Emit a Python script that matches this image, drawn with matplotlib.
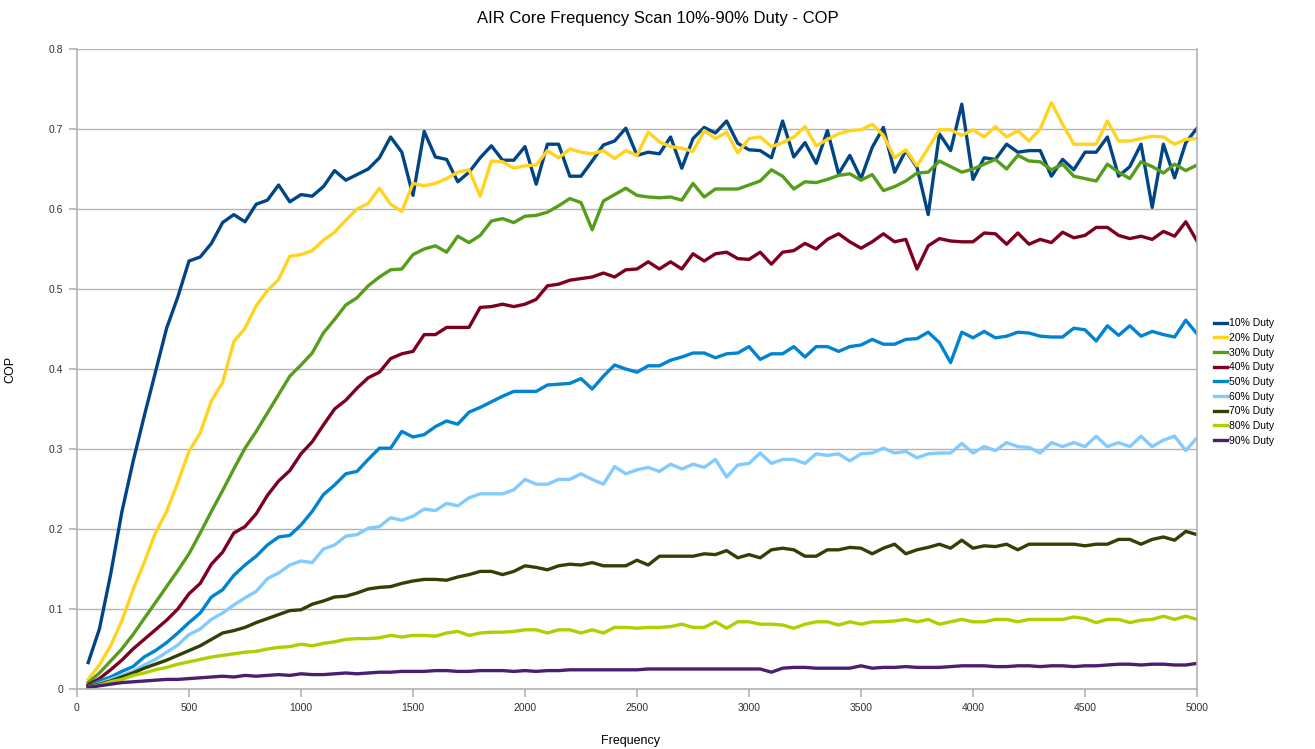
import matplotlib
matplotlib.use("Agg")
from matplotlib import pyplot as plt

plt.rcParams["font.family"] = ["Liberation Sans", "DejaVu Sans"]

# frequency grid of the scan (50 Hz steps)
FREQ = list(range(50, 5001, 50))

LABELS = ["10% Duty", "20% Duty", "30% Duty", "40% Duty", "50% Duty",
          "60% Duty", "70% Duty", "80% Duty", "90% Duty"]
COLORS = ["#004586", "#ffd320", "#579d1c", "#7e0021", "#0084d1",
          "#83caff", "#314004", "#aecf00", "#4b1f6f"]

duty10 = [
    0.033, 0.075, 0.143, 0.221, 0.284, 0.341, 0.396, 0.451, 0.490, 0.535,
    0.540, 0.557, 0.583, 0.593, 0.584, 0.606, 0.611, 0.630, 0.609, 0.618,
    0.616, 0.628, 0.648, 0.636, 0.643, 0.650, 0.664, 0.690, 0.671, 0.617,
    0.697, 0.665, 0.662, 0.634, 0.646, 0.664, 0.679, 0.661, 0.661, 0.678,
    0.631, 0.681, 0.681, 0.641, 0.641, 0.660, 0.680, 0.685, 0.701, 0.667,
    0.671, 0.669, 0.690, 0.651, 0.688, 0.702, 0.695, 0.710, 0.682, 0.674,
    0.673, 0.664, 0.710, 0.665, 0.683, 0.657, 0.698, 0.644, 0.667, 0.638,
    0.677, 0.702, 0.646, 0.673, 0.652, 0.593, 0.694, 0.673, 0.731, 0.637,
    0.664, 0.662, 0.681, 0.671, 0.673, 0.673, 0.641, 0.662, 0.649, 0.671,
    0.671, 0.690, 0.641, 0.653, 0.681, 0.602, 0.681, 0.639, 0.683, 0.701,
]
duty20 = [
    0.012, 0.030, 0.054, 0.085, 0.124, 0.158, 0.195, 0.222, 0.258, 0.297,
    0.320, 0.360, 0.383, 0.434, 0.451, 0.479, 0.498, 0.512, 0.541, 0.543,
    0.548, 0.561, 0.571, 0.586, 0.600, 0.607, 0.626, 0.606, 0.597, 0.632,
    0.629, 0.632, 0.638, 0.646, 0.649, 0.616, 0.660, 0.659, 0.651, 0.654,
    0.655, 0.673, 0.664, 0.675, 0.671, 0.669, 0.673, 0.663, 0.673, 0.667,
    0.696, 0.684, 0.678, 0.676, 0.672, 0.698, 0.688, 0.696, 0.670, 0.688,
    0.690, 0.678, 0.683, 0.690, 0.703, 0.679, 0.687, 0.694, 0.698, 0.699,
    0.706, 0.692, 0.664, 0.674, 0.654, 0.676, 0.699, 0.699, 0.692, 0.699,
    0.690, 0.703, 0.690, 0.698, 0.685, 0.700, 0.733, 0.706, 0.681, 0.681,
    0.681, 0.710, 0.685, 0.685, 0.688, 0.691, 0.690, 0.681, 0.687, 0.688,
]
duty30 = [
    0.008, 0.020, 0.035, 0.050, 0.068, 0.088, 0.108, 0.128, 0.148, 0.169,
    0.195, 0.222, 0.248, 0.275, 0.301, 0.322, 0.345, 0.368, 0.391, 0.405,
    0.420, 0.445, 0.462, 0.480, 0.489, 0.504, 0.515, 0.524, 0.525, 0.543,
    0.550, 0.554, 0.546, 0.566, 0.558, 0.567, 0.585, 0.588, 0.583, 0.591,
    0.592, 0.596, 0.604, 0.613, 0.608, 0.574, 0.610, 0.618, 0.626, 0.617,
    0.615, 0.614, 0.615, 0.611, 0.632, 0.615, 0.625, 0.625, 0.625, 0.630,
    0.635, 0.649, 0.641, 0.625, 0.634, 0.633, 0.637, 0.642, 0.644, 0.636,
    0.643, 0.623, 0.628, 0.635, 0.645, 0.646, 0.660, 0.653, 0.646, 0.650,
    0.656, 0.662, 0.650, 0.667, 0.660, 0.659, 0.649, 0.656, 0.641, 0.638,
    0.635, 0.656, 0.646, 0.638, 0.659, 0.653, 0.645, 0.656, 0.648, 0.655,
]
duty40 = [
    0.005, 0.013, 0.024, 0.036, 0.050, 0.062, 0.074, 0.086, 0.100, 0.119,
    0.132, 0.156, 0.171, 0.195, 0.203, 0.219, 0.242, 0.260, 0.273, 0.294,
    0.309, 0.330, 0.350, 0.361, 0.376, 0.389, 0.396, 0.413, 0.419, 0.422,
    0.443, 0.443, 0.452, 0.452, 0.452, 0.477, 0.478, 0.481, 0.478, 0.481,
    0.487, 0.504, 0.506, 0.511, 0.513, 0.515, 0.520, 0.515, 0.524, 0.525,
    0.534, 0.525, 0.534, 0.525, 0.544, 0.535, 0.544, 0.546, 0.538, 0.537,
    0.546, 0.531, 0.546, 0.548, 0.557, 0.550, 0.562, 0.569, 0.559, 0.551,
    0.559, 0.569, 0.559, 0.562, 0.525, 0.554, 0.563, 0.560, 0.559, 0.559,
    0.570, 0.569, 0.556, 0.570, 0.556, 0.562, 0.558, 0.571, 0.564, 0.567,
    0.577, 0.577, 0.567, 0.563, 0.566, 0.562, 0.572, 0.566, 0.584, 0.560,
]
duty50 = [
    0.003, 0.010, 0.015, 0.022, 0.028, 0.040, 0.048, 0.058, 0.070, 0.083,
    0.095, 0.115, 0.124, 0.142, 0.155, 0.166, 0.180, 0.190, 0.192, 0.205,
    0.222, 0.243, 0.255, 0.269, 0.272, 0.287, 0.301, 0.301, 0.322, 0.315,
    0.318, 0.328, 0.335, 0.331, 0.346, 0.352, 0.359, 0.366, 0.372, 0.372,
    0.372, 0.380, 0.381, 0.382, 0.388, 0.375, 0.391, 0.405, 0.400, 0.396,
    0.404, 0.404, 0.411, 0.415, 0.420, 0.420, 0.414, 0.419, 0.420, 0.428,
    0.412, 0.419, 0.419, 0.428, 0.415, 0.428, 0.428, 0.422, 0.428, 0.430,
    0.437, 0.431, 0.431, 0.437, 0.438, 0.446, 0.433, 0.408, 0.446, 0.439,
    0.447, 0.439, 0.441, 0.446, 0.445, 0.441, 0.440, 0.440, 0.451, 0.449,
    0.435, 0.454, 0.442, 0.454, 0.441, 0.447, 0.443, 0.440, 0.461, 0.444,
]
duty60 = [
    0.002, 0.007, 0.012, 0.017, 0.022, 0.030, 0.037, 0.046, 0.055, 0.068,
    0.075, 0.087, 0.095, 0.105, 0.114, 0.122, 0.138, 0.145, 0.155, 0.160,
    0.158, 0.175, 0.180, 0.191, 0.193, 0.201, 0.203, 0.214, 0.211, 0.216,
    0.225, 0.223, 0.232, 0.229, 0.239, 0.244, 0.244, 0.244, 0.249, 0.262,
    0.256, 0.256, 0.262, 0.262, 0.269, 0.262, 0.256, 0.278, 0.269, 0.274,
    0.277, 0.272, 0.281, 0.275, 0.281, 0.277, 0.287, 0.265, 0.280, 0.282,
    0.295, 0.282, 0.287, 0.287, 0.282, 0.294, 0.292, 0.294, 0.285, 0.294,
    0.295, 0.301, 0.295, 0.297, 0.289, 0.294, 0.295, 0.295, 0.307, 0.295,
    0.303, 0.298, 0.308, 0.303, 0.302, 0.295, 0.308, 0.303, 0.308, 0.303,
    0.316, 0.303, 0.308, 0.303, 0.316, 0.303, 0.311, 0.316, 0.298, 0.314,
]
duty70 = [
    0.003, 0.006, 0.010, 0.015, 0.020, 0.026, 0.031, 0.036, 0.042, 0.048,
    0.054, 0.062, 0.070, 0.073, 0.077, 0.083, 0.088, 0.093, 0.098, 0.099,
    0.106, 0.110, 0.115, 0.116, 0.120, 0.125, 0.127, 0.128, 0.132, 0.135,
    0.137, 0.137, 0.136, 0.140, 0.143, 0.147, 0.147, 0.143, 0.147, 0.154,
    0.152, 0.149, 0.154, 0.156, 0.155, 0.158, 0.154, 0.154, 0.154, 0.161,
    0.155, 0.166, 0.166, 0.166, 0.166, 0.169, 0.168, 0.173, 0.164, 0.168,
    0.164, 0.174, 0.176, 0.174, 0.166, 0.166, 0.174, 0.174, 0.177, 0.176,
    0.169, 0.176, 0.181, 0.169, 0.174, 0.177, 0.181, 0.176, 0.186, 0.176,
    0.179, 0.178, 0.181, 0.174, 0.181, 0.181, 0.181, 0.181, 0.181, 0.179,
    0.181, 0.181, 0.187, 0.187, 0.181, 0.187, 0.190, 0.186, 0.197, 0.193,
]
duty80 = [
    0.002, 0.005, 0.009, 0.012, 0.017, 0.020, 0.024, 0.027, 0.031, 0.034,
    0.037, 0.040, 0.042, 0.044, 0.046, 0.047, 0.050, 0.052, 0.053, 0.056,
    0.054, 0.057, 0.059, 0.062, 0.063, 0.063, 0.064, 0.067, 0.065, 0.067,
    0.067, 0.066, 0.070, 0.072, 0.067, 0.070, 0.071, 0.071, 0.072, 0.074,
    0.074, 0.070, 0.074, 0.074, 0.070, 0.074, 0.070, 0.077, 0.077, 0.076,
    0.077, 0.077, 0.078, 0.081, 0.077, 0.077, 0.084, 0.076, 0.084, 0.084,
    0.081, 0.081, 0.080, 0.076, 0.081, 0.084, 0.084, 0.080, 0.084, 0.081,
    0.084, 0.084, 0.085, 0.087, 0.084, 0.087, 0.081, 0.084, 0.087, 0.084,
    0.084, 0.087, 0.087, 0.084, 0.087, 0.087, 0.087, 0.087, 0.090, 0.088,
    0.083, 0.087, 0.087, 0.083, 0.086, 0.087, 0.091, 0.087, 0.091, 0.087,
]
duty90 = [
    0.002, 0.004, 0.006, 0.008, 0.009, 0.010, 0.011, 0.012, 0.012, 0.013,
    0.014, 0.015, 0.016, 0.015, 0.017, 0.016, 0.017, 0.018, 0.017, 0.019,
    0.018, 0.018, 0.019, 0.020, 0.019, 0.020, 0.021, 0.021, 0.022, 0.022,
    0.022, 0.023, 0.023, 0.022, 0.022, 0.023, 0.023, 0.023, 0.022, 0.023,
    0.022, 0.023, 0.023, 0.024, 0.024, 0.024, 0.024, 0.024, 0.024, 0.024,
    0.025, 0.025, 0.025, 0.025, 0.025, 0.025, 0.025, 0.025, 0.025, 0.025,
    0.025, 0.021, 0.026, 0.027, 0.027, 0.026, 0.026, 0.026, 0.026, 0.029,
    0.026, 0.027, 0.027, 0.028, 0.027, 0.027, 0.027, 0.028, 0.029, 0.029,
    0.029, 0.028, 0.028, 0.029, 0.029, 0.028, 0.029, 0.029, 0.028, 0.029,
    0.029, 0.030, 0.031, 0.031, 0.030, 0.031, 0.031, 0.030, 0.030, 0.032,
]

SERIES = [duty10, duty20, duty30, duty40, duty50, duty60, duty70, duty80, duty90]

GRID = "#b3b3b3"

fig = plt.figure(figsize=(13.15, 7.49), dpi=100)
ax = fig.add_axes([77 / 1315, 60 / 749, 1120 / 1315, 640 / 749])

for vals, label, color in zip(SERIES, LABELS, COLORS):
    ax.plot(FREQ, vals, color=color, lw=2.4, label=label, solid_joinstyle="round")

ax.set_xlim(0, 5000)
ax.set_ylim(0, 0.8)
ax.set_xticks(range(0, 5001, 500))
ax.set_yticks([i / 10 for i in range(9)])
ax.set_yticklabels(["0"] + [f"{i / 10:.1f}" for i in range(1, 9)])

ax.grid(axis="y", color=GRID, lw=1)
ax.set_axisbelow(True)
for side in ["left", "bottom", "right"]:
    ax.spines[side].set_color(GRID)
    ax.spines[side].set_linewidth(1.2)
ax.spines["top"].set_visible(False)
ax.tick_params(axis="both", direction="out", length=6, color=GRID, width=1.2,
               labelsize=7.5, labelcolor="#333333", pad=4)

ax.set_xlabel("Frequency", fontsize=9)
ax.xaxis.set_label_coords(0.494, -0.072)
ax.set_ylabel("COP", fontsize=9)
ax.yaxis.set_label_coords(-0.054, 0.5)
fig.suptitle("AIR Core Frequency Scan 10%-90% Duty - COP", fontsize=12, y=0.985)

fig.legend(loc="center left", bbox_to_anchor=(1209 / 1315, 1 - 382 / 749),
           frameon=False, fontsize=7.5, handlelength=1.2, handletextpad=0.25,
           labelspacing=0.45, borderpad=0)

fig.savefig("out.png", dpi=100)
